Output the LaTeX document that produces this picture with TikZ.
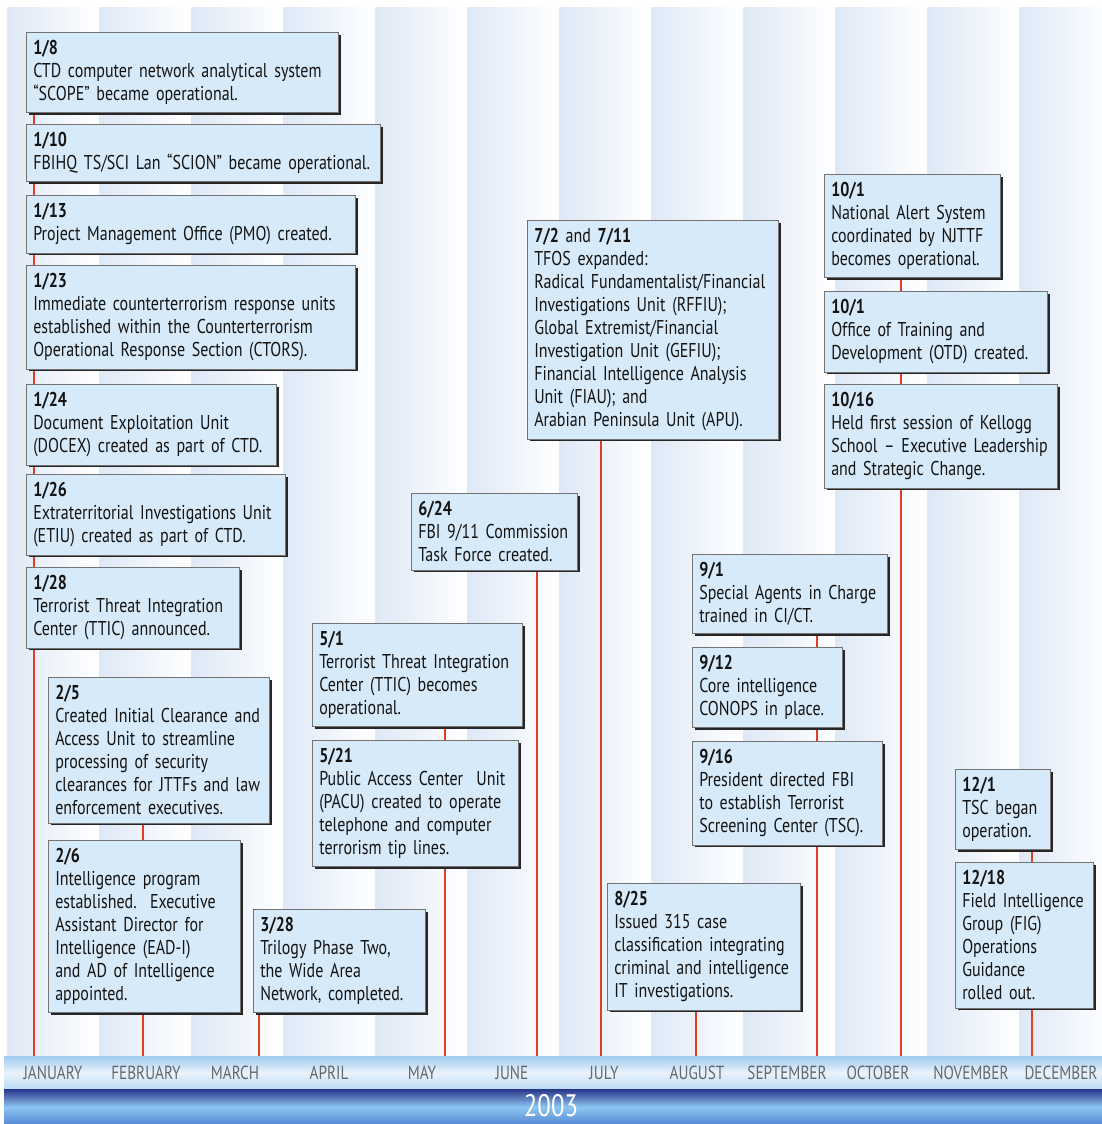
\documentclass[tikz,border=0pt]{standalone}
\usepackage{fontspec}
\setmainfont[FakeStretch=0.8]{PT Sans}
\usetikzlibrary{shadows}
\definecolor{boxfill}{RGB}{214,234,249}
\definecolor{stripe}{RGB}{222,232,246}
\definecolor{tick}{RGB}{226,62,36}
\definecolor{monthgray}{RGB}{100,104,110}
\definecolor{navy}{RGB}{40,52,138}
\definecolor{barlight}{RGB}{142,198,242}
\definecolor{barmid}{RGB}{86,138,212}
\definecolor{bandtop}{RGB}{158,202,238}
\definecolor{bandmid}{RGB}{234,243,251}
\pgfdeclarelayer{bg}
\pgfdeclarelayer{ticks}
\pgfsetlayers{bg,ticks,main}
\tikzset{
  evbox/.style={draw=black!55, line width=0.5pt, fill=boxfill, anchor=north west,
    align=left, inner xsep=7pt, inner ysep=8pt, text=black!92,
    font=\fontsize{20}{23}\selectfont,
    execute at begin node={\hyphenpenalty=10000\relax},
    drop shadow={shadow xshift=2.5pt, shadow yshift=-2.5pt, fill=black!85, opacity=1}},
  evline/.style={draw=tick, line width=1.2pt},
  month/.style={font=\fontsize{19}{19}\selectfont, text=monthgray}
}
\begin{document}
\begin{tikzpicture}[x=1pt,y=1pt]
  \useasboundingbox (0,0) rectangle (1102,-1124);
  \begin{pgfonlayer}{bg}
    \fill[white] (0,0) rectangle (1102,-1124);
    \foreach \i in {0,...,11}
      \fill[left color=stripe, right color=white] ({7+92*\i},-8) rectangle ({99+92*\i},-1056);
    \fill[top color=bandtop, bottom color=bandtop!70, middle color=bandmid] (4,-1056) rectangle (1102,-1089);
    \fill[top color=navy, bottom color=barlight] (4,-1089) rectangle (1102,-1107);
    \fill[top color=barlight, bottom color=barmid] (4,-1107) rectangle (1102,-1124);
  \end{pgfonlayer}

  \coordinate (jan) at (34,-1056);
  \coordinate (feb) at (143,-1056);
  \coordinate (mar) at (259,-1056);
  \coordinate (may) at (445,-1056);
  \coordinate (jun) at (537,-1056);
  \coordinate (jul) at (601,-1056);
  \coordinate (aug) at (696,-1056);
  \coordinate (sep) at (817,-1056);
  \coordinate (oct) at (901,-1056);
  \coordinate (dec) at (1032,-1056);

  \node[evbox, text width=298pt] (e0108) at (26,-32) {\textbf{1/8}\\CTD computer network analytical system\\“SCOPE” became operational.};
  \node[evbox, text width=340pt] (e0110) at (26,-124) {\textbf{1/10}\\FBIHQ TS/SCI Lan “SCION” became operational.};
  \node[evbox, text width=315pt] (e0113) at (26,-195) {\textbf{1/13}\\Project Management Office (PMO) created.};
  \node[evbox, text width=315pt] (e0123) at (26,-265) {\textbf{1/23}\\Immediate counterterrorism response units\\established within the Counterterrorism\\Operational Response Section (CTORS).};
  \node[evbox, text width=236pt] (e0124) at (26,-384) {\textbf{1/24}\\Document Exploitation Unit\\(DOCEX) created as part of CTD.};
  \node[evbox, text width=245pt] (e0126) at (26,-474) {\textbf{1/26}\\Extraterritorial Investigations Unit\\(ETIU) created as part of CTD.};
  \node[evbox, text width=199pt] (e0128) at (26,-567) {\textbf{1/28}\\Terrorist Threat Integration\\Center (TTIC) announced.};
  \node[evbox, text width=207pt] (e0205) at (48,-677) {\textbf{2/5}\\Created Initial Clearance and\\Access Unit to streamline\\processing of security\\clearances for JTTFs and law\\enforcement executives.};
  \node[evbox, text width=178pt] (e0206) at (48,-840) {\textbf{2/6}\\Intelligence program\\established.\ \ Executive\\Assistant Director for\\Intelligence (EAD-I)\\and AD of Intelligence\\appointed.};
  \node[evbox, text width=158pt] (e0328) at (253,-909) {\textbf{3/28}\\Trilogy Phase Two,\\the Wide Area\\Network, completed.};
  \node[evbox, text width=196pt] (e0501) at (312,-623) {\textbf{5/1}\\Terrorist Threat Integration\\Center (TTIC) becomes\\operational.};
  \node[evbox, text width=192pt] (e0521) at (312,-740) {\textbf{5/21}\\Public Access Center\ \ Unit\\(PACU) created to operate\\telephone and computer\\terrorism tip lines.};
  \node[evbox, text width=152pt] (e0624) at (411,-493) {\textbf{6/24}\\FBI 9/11 Commission\\Task Force created.};
  \node[evbox, text width=237pt] (e0702) at (527,-220) {\textbf{7/2} and \textbf{7/11}\\TFOS expanded:\\Radical Fundamentalist/Financial\\Investigations Unit (RFFIU);\\Global Extremist/Financial\\Investigation Unit (GEFIU);\\Financial Intelligence Analysis\\Unit (FIAU); and\\Arabian Peninsula Unit (APU).};
  \node[evbox, text width=179pt] (e0825) at (607,-883) {\textbf{8/25}\\Issued 315 case\\classification integrating\\criminal and intelligence\\IT investigations.};
  \node[evbox, text width=181pt] (e0901) at (692,-554) {\textbf{9/1}\\Special Agents in Charge\\trained in CI/CT.};
  \node[evbox, text width=136pt] (e0912) at (692,-647) {\textbf{9/12}\\Core intelligence\\CONOPS in place.};
  \node[evbox, text width=176pt] (e0916) at (692,-741) {\textbf{9/16}\\President directed FBI\\to establish Terrorist\\Screening Center (TSC).};
  \node[evbox, text width=162pt] (e1001a) at (824,-174) {\textbf{10/1}\\National Alert System\\coordinated by NJTTF\\becomes operational.};
  \node[evbox, text width=209pt] (e1001b) at (824,-291) {\textbf{10/1}\\Office of Training and\\Development (OTD) created.};
  \node[evbox, text width=219pt] (e1016) at (824,-384) {\textbf{10/16}\\Held first session of Kellogg\\School – Executive Leadership\\and Strategic Change.};
  \node[evbox, text width=81pt] (e1201) at (955,-769) {\textbf{12/1}\\TSC began\\operation.};
  \node[evbox, text width=124pt] (e1218) at (955,-862) {\textbf{12/18}\\Field Intelligence\\Group (FIG)\\Operations\\Guidance\\rolled out.};

  \begin{pgfonlayer}{ticks}
    \draw[evline] (e0108.south -| jan) -- (jan);
    \draw[evline] (e0205.south -| feb) -- (feb);
    \draw[evline] (e0328.south -| mar) -- (mar);
    \draw[evline] (e0501.south -| may) -- (may);
    \draw[evline] (e0624.south -| jun) -- (jun);
    \draw[evline] (e0702.south -| jul) -- (jul);
    \draw[evline] (e0825.south -| aug) -- (aug);
    \draw[evline] (e0901.south -| sep) -- (sep);
    \draw[evline] (e1001a.south -| oct) -- (oct);
    \draw[evline] (e1201.south -| dec) -- (dec);
  \end{pgfonlayer}

  \node[month] (mjan) at (53,-1073) {JANUARY};
  \node[month] (mfeb) at (146,-1073) {FEBRUARY};
  \node[month] (mmar) at (235,-1073) {MARCH};
  \node[month] (mapr) at (329,-1073) {APRIL};
  \node[month] (mmay) at (422,-1073) {MAY};
  \node[month] (mjun) at (512,-1073) {JUNE};
  \node[month] (mjul) at (604,-1073) {JULY};
  \node[month] (maug) at (697,-1073) {AUGUST};
  \node[month] (msep) at (787,-1073) {SEPTEMBER};
  \node[month] (moct) at (878,-1073) {OCTOBER};
  \node[month] (mnov) at (971,-1073) {NOVEMBER};
  \node[month] (mdec) at (1061,-1073) {DECEMBER};
  \node[font=\fontsize{31}{31}\selectfont, text=white, inner sep=0pt] (year) at (551,-1106) {2003};
\end{tikzpicture}
\end{document}
